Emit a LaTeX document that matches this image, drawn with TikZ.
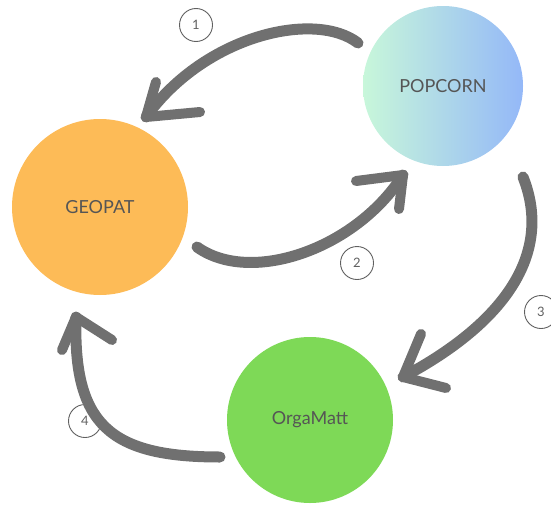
\documentclass[tikz,border=0pt]{standalone}
\usepackage{fontspec}
\setmainfont{Lato}
\definecolor{geo}{HTML}{FDBB57}
\definecolor{orga}{HTML}{7ED957}
\definecolor{popL}{HTML}{C8F7DA}
\definecolor{popR}{HTML}{94B8F8}
\definecolor{arrowgray}{HTML}{707070}
\definecolor{txtgray}{HTML}{555555}
\definecolor{numgray}{HTML}{606060}
\begin{document}
\begin{tikzpicture}[x=1pt,y=-1pt,
  bubble/.style={circle, inner sep=0pt, text=txtgray, font=\fontsize{18}{20}\selectfont},
  numbox/.style={circle, draw=numgray, line width=0.9pt, minimum size=33pt, inner sep=0pt, text=numgray, font=\fontsize{13}{14}\selectfont},
  shaft/.style={draw=arrowgray, line width=11pt, line cap=round},
  barbs/.style={draw=arrowgray, line width=10pt, line cap=round, line join=round}]
\useasboundingbox (0,0) rectangle (551,506);
\node[bubble, fill=geo, minimum size=176pt] (geo) at (100,207) {GEOPAT};
\node[bubble, left color=popL, right color=popR, minimum size=160pt] (pop) at (443,86) {POPCORN};
\node[bubble, fill=orga, minimum size=166pt] (orga) at (310,420) {OrgaMatt};
\node[numbox] (n1) at (196,25) {1};
\node[numbox] (n2) at (357,263) {2};
\node[numbox] (n3) at (541,312) {3};
\node[numbox] (n4) at (85,421) {4};
% arrow 1: POPCORN -> GEOPAT
\coordinate (a1s) at (358,43);
\coordinate (a1t) at (146,117);
\coordinate (a1b1) at (156,82);
\coordinate (a1b2) at (200,112);
\draw[shaft] (a1s) .. controls (315,10) and (205,35) .. (a1t);
\draw[barbs] (a1b1) -- (a1t) -- (a1b2);
% arrow 2: GEOPAT -> POPCORN
\coordinate (a2s) at (197,247);
\coordinate (a2t) at (403,175);
\coordinate (a2b1) at (356,181);
\coordinate (a2b2) at (399,209);
\draw[shaft] (a2s) .. controls (250,285) and (355,250) .. (a2t);
\draw[barbs] (a2b1) -- (a2t) -- (a2b2);
% arrow 3: POPCORN -> OrgaMatt
\coordinate (a3s) at (523,177);
\coordinate (a3t) at (403,377);
\coordinate (a3b1) at (421,334);
\coordinate (a3b2) at (446,388);
\draw[shaft] (a3s) .. controls (552,250) and (510,320) .. (a3t);
\draw[barbs] (a3b1) -- (a3t) -- (a3b2);
% arrow 4: OrgaMatt -> GEOPAT
\coordinate (a4s) at (220,457);
\coordinate (a4t) at (76,317);
\coordinate (a4b1) at (62,350);
\coordinate (a4b2) at (112,340);
\draw[shaft] (a4s) .. controls (109,457) and (73,424) .. (a4t);
\draw[barbs] (a4b1) -- (a4t) -- (a4b2);
\end{tikzpicture}
\end{document}
